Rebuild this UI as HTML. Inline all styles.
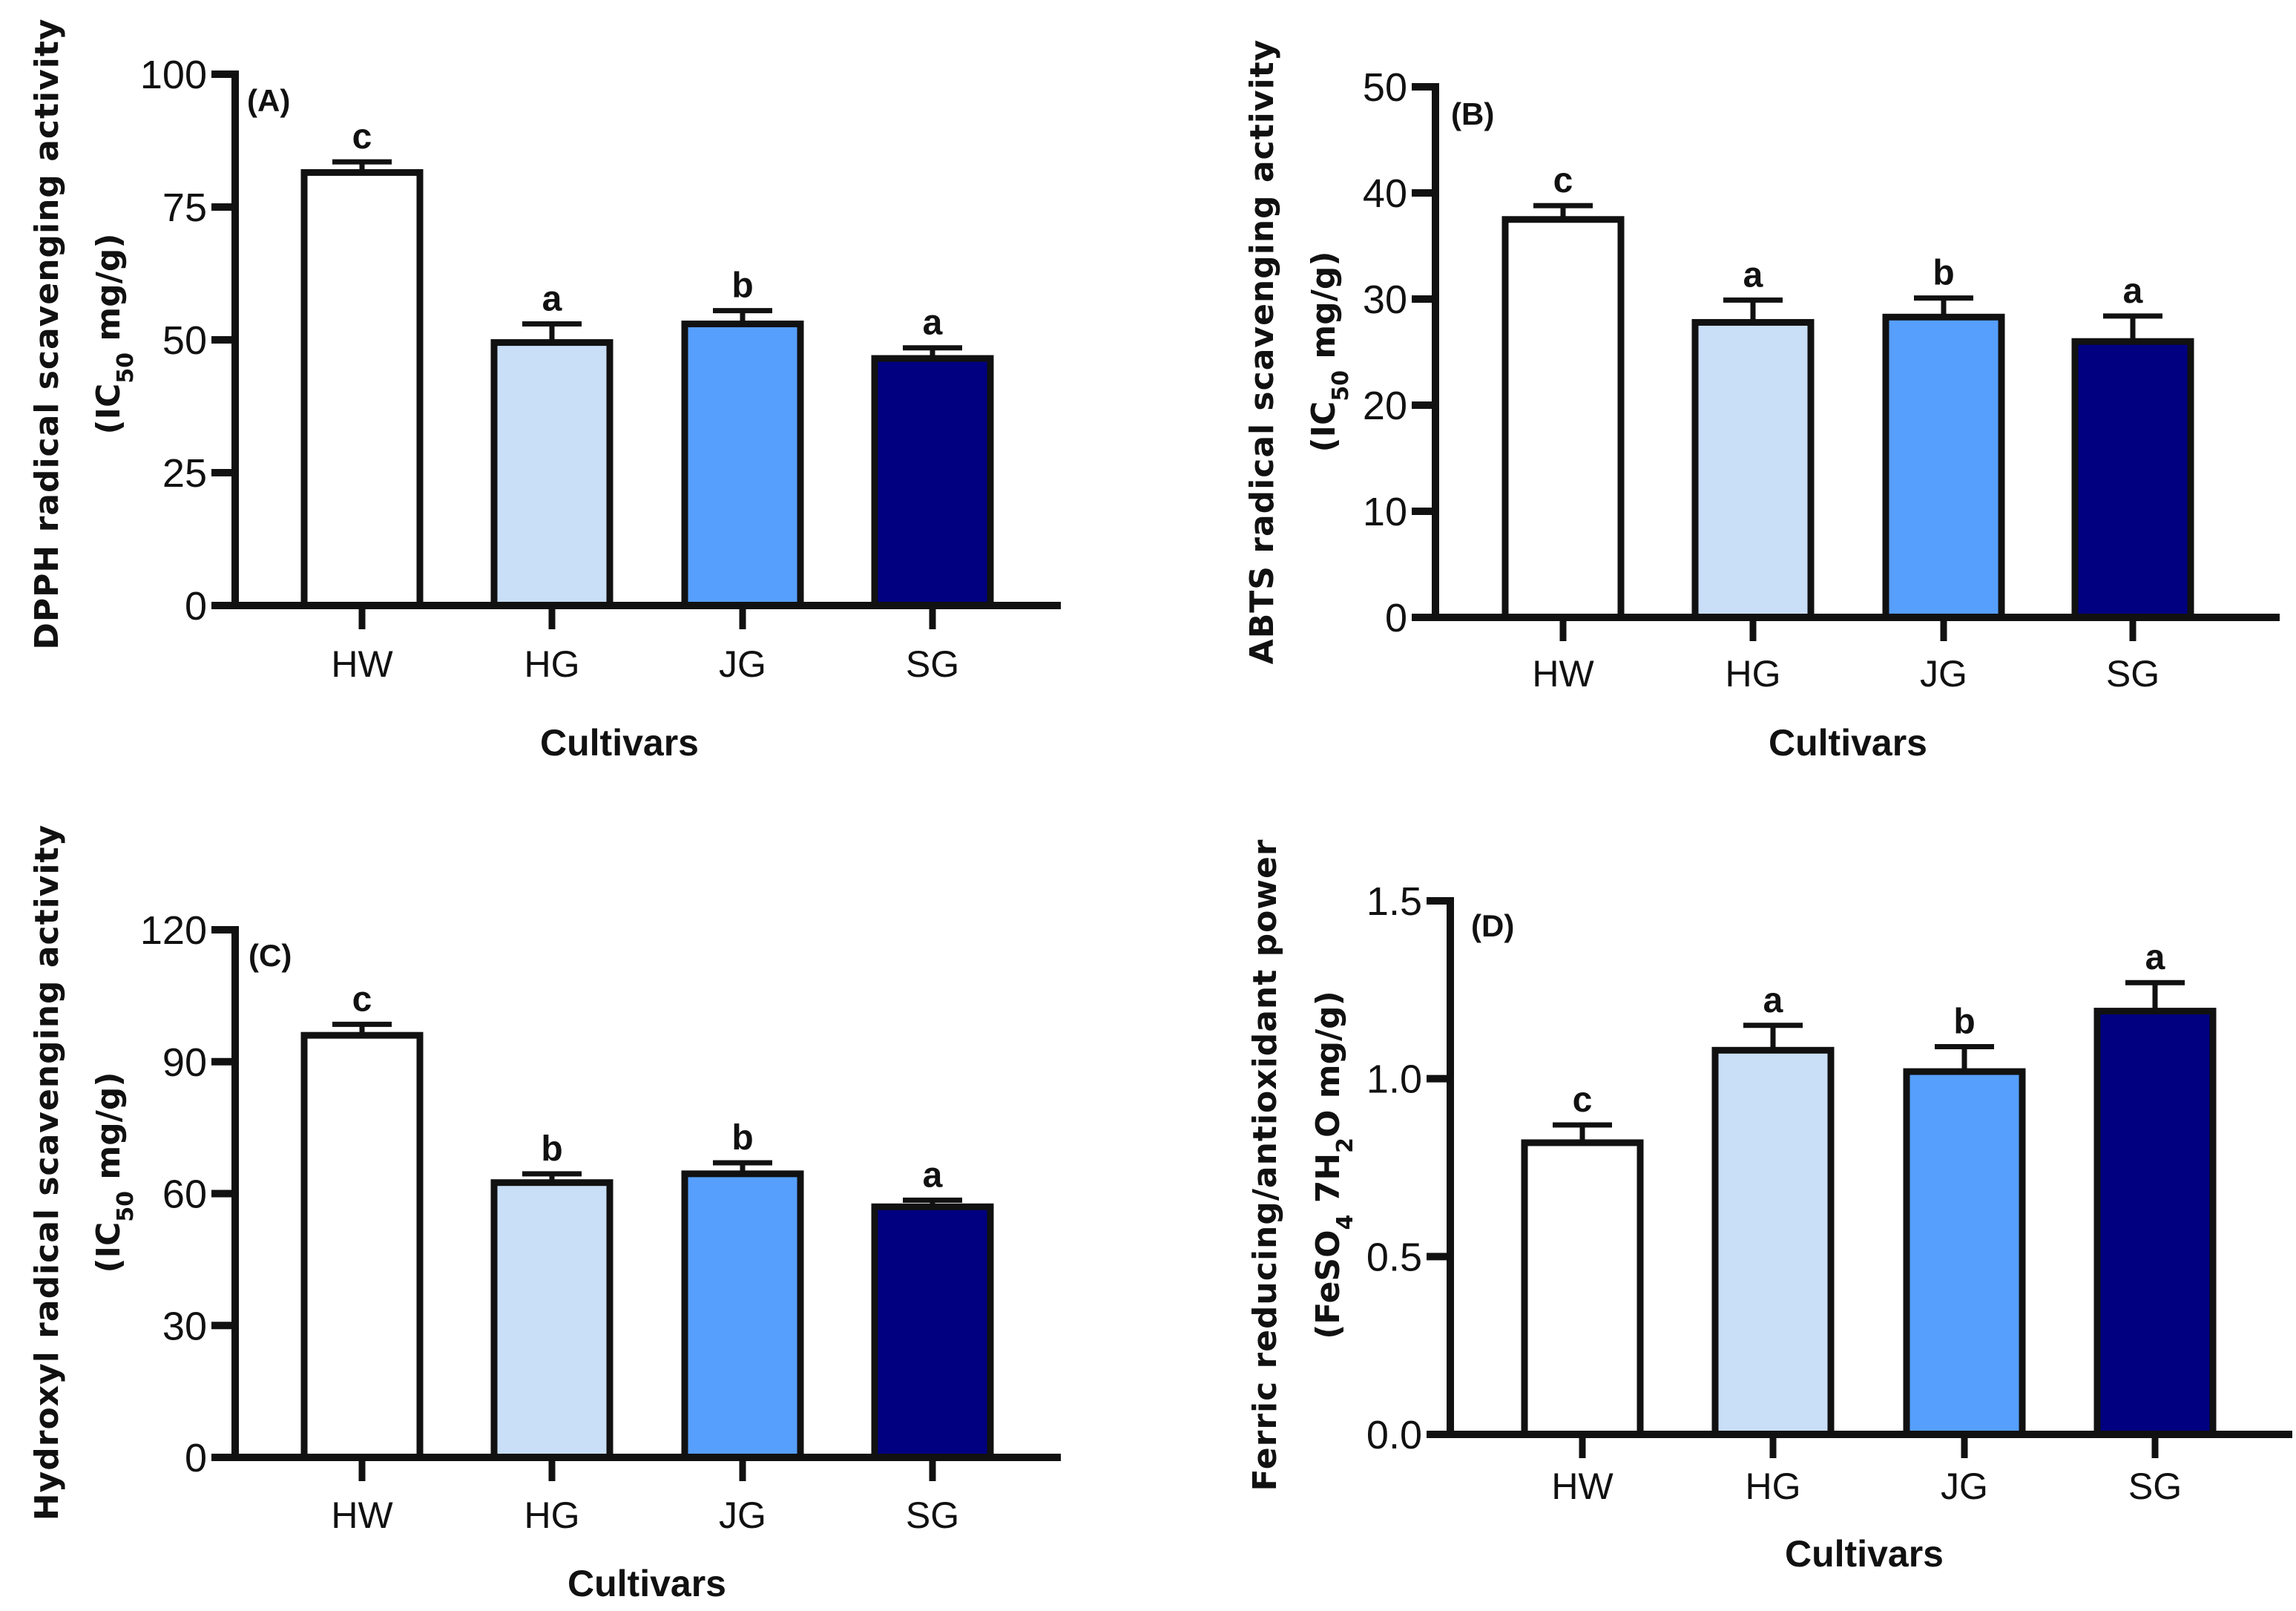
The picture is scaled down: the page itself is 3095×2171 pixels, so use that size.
<!DOCTYPE html>
<html><head><meta charset="utf-8"><style>
html,body{margin:0;padding:0;background:#fff;}
svg{display:block;}
.tick{font-family:"Liberation Sans Narrow","Liberation Sans",sans-serif;font-size:54px;fill:#111;}
.cat{font-family:"Liberation Sans",sans-serif;font-size:50px;fill:#111;}
.xt{font-family:"Liberation Sans",sans-serif;font-size:50px;font-weight:bold;fill:#111;}
.yt{font-family:"DejaVu Sans","Liberation Sans",sans-serif;font-size:44px;font-weight:bold;fill:#111;}
.sig{font-family:"Liberation Sans",sans-serif;font-size:48px;font-weight:bold;fill:#111;}
.pl{font-family:"Liberation Sans",sans-serif;font-size:42px;font-weight:bold;fill:#111;}
</style></head><body>
<svg id="fig" width="3095" height="2171" viewBox="0 0 3095 2171" xmlns="http://www.w3.org/2000/svg"></svg>
<script>
const categories = ["HW","HG","JG","SG"];
const colors = ["#ffffff","#c9def7","#569ffc","#000080"];
const dpphValues = [81.5,49.5,53,46.5];
const dpphErr = [2,3.5,2.5,2];
const dpphSig = ["c","a","b","a"];
const dpphTicks = [0,25,50,75,100];
const abtsValues = [37.5,27.8,28.3,26];
const abtsErr = [1.3,2.1,1.8,2.4];
const abtsSig = ["c","a","b","a"];
const abtsTicks = [0,10,20,30,40,50];
const hydValues = [96,62.5,64.5,57];
const hydErr = [2.5,2,2.5,1.5];
const hydSig = ["c","b","b","a"];
const hydTicks = [0,30,60,90,120];
const frapValues = [0.82,1.08,1.02,1.19];
const frapErr = [0.05,0.07,0.07,0.08];
const frapSig = ["c","a","b","a"];
const frapTicks = ["0.0","0.5","1.0","1.5"];

const NS="http://www.w3.org/2000/svg";
const svg=document.getElementById('fig');
function mk(tag,attrs,parent){const e=document.createElementNS(NS,tag);for(const k in attrs)e.setAttribute(k,attrs[k]);(parent||svg).appendChild(e);return e;}

const panels=[
 {id:'a',label:'(A)',ax:317,top:100,zero:816,xend:1430,centers:[488,744,1001,1257],vals:dpphValues,err:dpphErr,sig:dpphSig,ticks:dpphTicks,max:100,catY:912,cx:835,cy:1018,y1x:62,y2x:145,ycy:450,l1:"DPPH radical scavenging activity",sub:"50",pre:"(IC",post:" mg/g)",plx:333,ply:150},
 {id:'b',label:'(B)',ax:1935,top:117,zero:832,xend:3073,centers:[2107,2363,2620,2875],vals:abtsValues,err:abtsErr,sig:abtsSig,ticks:abtsTicks,max:50,catY:925,cx:2491,cy:1018,y1x:1700,y2x:1783,ycy:474,l1:"ABTS radical scavenging activity",sub:"50",pre:"(IC",post:" mg/g)",plx:1956,ply:168},
 {id:'c',label:'(C)',ax:317,top:1253,zero:1964,xend:1430,centers:[488,744,1001,1257],vals:hydValues,err:hydErr,sig:hydSig,ticks:hydTicks,max:120,catY:2059,cx:872,cy:2151,y1x:62,y2x:145,ycy:1580,l1:"Hydroxyl radical scavenging activity",sub:"50",pre:"(IC",post:" mg/g)",plx:335,ply:1302},
 {id:'d',label:'(D)',ax:1955,top:1214,zero:1933,xend:3090,centers:[2133,2390,2648,2905],vals:frapValues,err:frapErr,sig:frapSig,ticks:frapTicks,max:1.5,catY:2020,cx:2513,cy:2111,y1x:1704,y2x:1789,ycy:1570,l1:"Ferric reducing/antioxidant power",sub:"4",pre:"(FeSO",post:" 7H",sub2:"2",post2:"O mg/g)",plx:1983,ply:1262}
];

panels.forEach(p=>{
 const g=mk('g',{});
 
 
 const y=v=>p.zero-(v/p.max)*(p.zero-p.top);
 p.vals.forEach((v,i)=>{
  const c=p.centers[i];
  const top=y(v), et=y(v+p.err[i]);
  const eb=mk('line',{x1:c,x2:c,y1:top,y2:et,stroke:'#111','stroke-width':7},g);
  
  
  const cap=mk('line',{x1:c-40,x2:c+40,y1:et,y2:et,stroke:'#111','stroke-width':7},g);
  
  
  const r=mk('rect',{x:c-78,y:top,width:156,height:p.zero-top,fill:colors[i],stroke:'#111','stroke-width':9},g);
  
  
  const s=mk('text',{x:c,y:et-18,'text-anchor':'middle',class:'sig'},g);
  s.textContent=p.sig[i];
  
  
  const tk=mk('line',{x1:c,x2:c,y1:p.zero,y2:p.zero+32,stroke:'#111','stroke-width':9},g);
  
  
  const lt=mk('text',{x:c,y:p.catY,'text-anchor':'middle',class:'cat'},g);
  lt.textContent=categories[i];
  
  
 });
 const ya=mk('line',{x1:p.ax,x2:p.ax,y1:p.top-5,y2:p.zero+5,stroke:'#111','stroke-width':10},g);
 
 
 const xa=mk('line',{x1:p.ax-32,x2:p.xend,y1:p.zero,y2:p.zero,stroke:'#111','stroke-width':10},g);
 
 
 p.ticks.forEach(t=>{
  const v=parseFloat(t), ty=y(v);
  const tl=mk('line',{x1:p.ax-32,x2:p.ax,y1:ty,y2:ty,stroke:'#111','stroke-width':10},g);
  
  
  const tt=mk('text',{x:p.ax-38,y:ty+19,'text-anchor':'end',class:'tick'},g);
  tt.textContent=t;
  
  
 });
 const pl=mk('text',{x:p.plx,y:p.ply,class:'pl'},g);
 pl.textContent=p.label;
 
 
 const xt=mk('text',{x:p.cx,y:p.cy,'text-anchor':'middle',class:'xt'},g);
 xt.textContent='Cultivars';
 
 
 const y1=mk('text',{x:0,y:0,'text-anchor':'middle',class:'yt',transform:`translate(${p.y1x+16},${p.ycy}) rotate(-90)`,'letter-spacing':'1'},g);
 y1.textContent=p.l1;
 
 
 const y2=mk('text',{x:0,y:0,'text-anchor':'middle',class:'yt',transform:`translate(${p.y2x+16},${p.ycy}) rotate(-90)`},g);
 
 
 const a=mk('tspan',{},y2);a.textContent=p.pre;
 const b=mk('tspan',{'baseline-shift':'sub','font-size':'30'},y2);b.textContent=p.sub;
 const c2=mk('tspan',{},y2);c2.textContent=p.post;
 if(p.sub2){const d=mk('tspan',{'baseline-shift':'sub','font-size':'30'},y2);d.textContent=p.sub2;
  const e=mk('tspan',{},y2);e.textContent=p.post2;}
});
</script>
</body></html>
